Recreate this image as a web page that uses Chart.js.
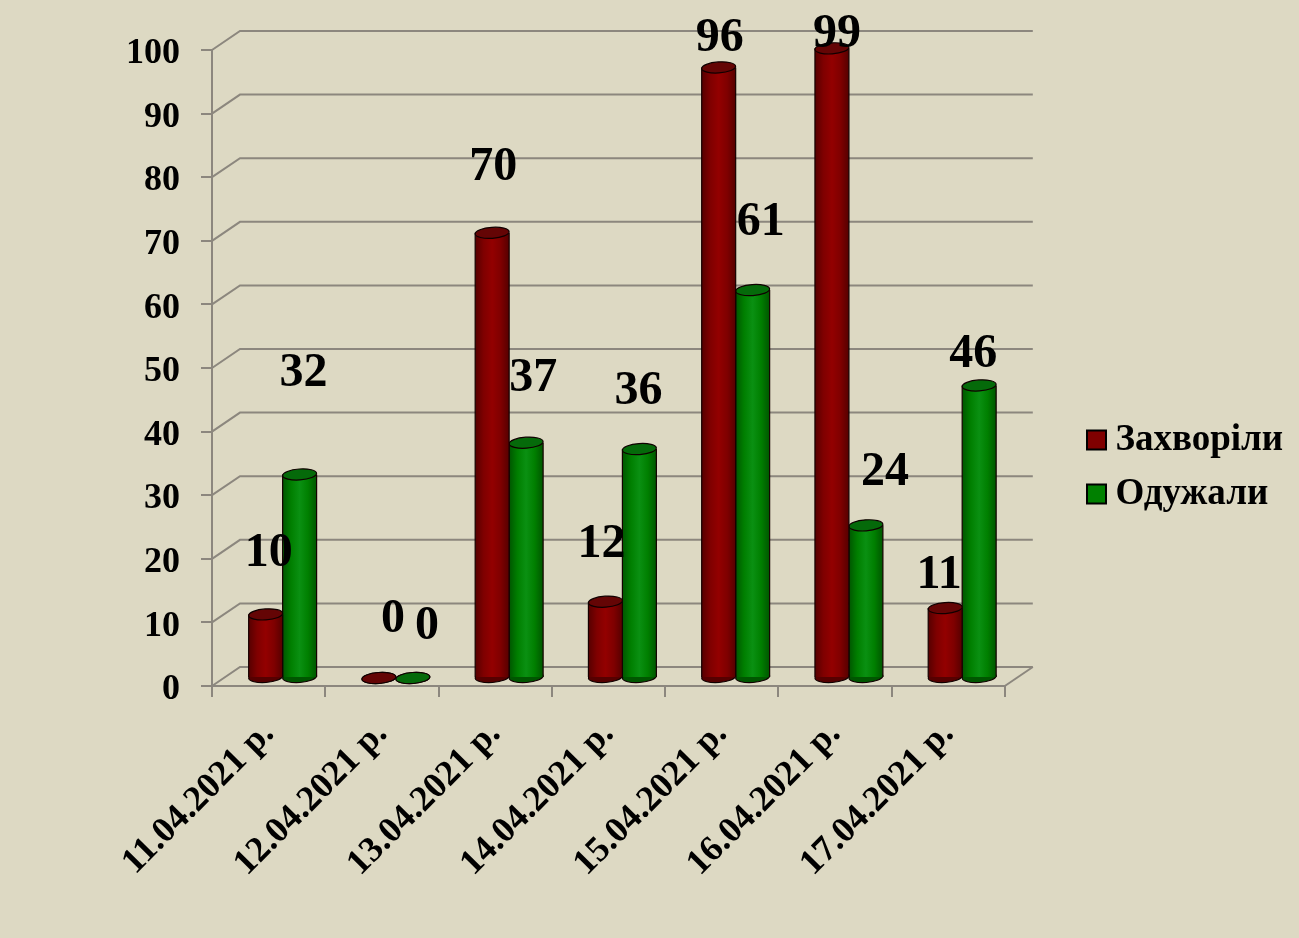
<!DOCTYPE html>
<html lang="uk">
<head>
<meta charset="utf-8">
<style>html,body{margin:0;padding:0;background:#DDD9C3}canvas{display:block}</style>
<script src="https://cdn.jsdelivr.net/npm/chart.js@4/dist/chart.umd.min.js"></script>
</head>
<body>
<canvas id="c" width="1299" height="938" style="width:1299px;height:938px"></canvas>
<script>
const categories = ['11.04.2021 р.','12.04.2021 р.','13.04.2021 р.','14.04.2021 р.','15.04.2021 р.','16.04.2021 р.','17.04.2021 р.'];
const sick = [10,0,70,12,96,99,11];
const recovered = [32,0,37,36,61,24,46];
const seriesNames = ['Захворіли','Одужали'];

// label placement relative to each bar top (the source chart has hand-moved labels)
const labelShift = [
  [[3,-61],[14,-58],[1,-65],[-4,-57],[1,-29],[5,-14],[-6,-32]],
  [[4,-101],[14,-51],[7,-64],[-1,-57],[8,-67],[19,-53],[-6,-31]]
];
const FONT = '"Liberation Serif","Times New Roman",serif';
const DEPTH_X = 28, DEPTH_Y = 19, BAR_DX = 14, BAR_DY = 8;
const palette = [
  {edge:'#560000', side:'#7f0000', mid:'#930000', top:'#640505', flat:'#800000'},
  {edge:'#005600', side:'#007f00', mid:'#0a9012', top:'#056a0a', flat:'#008000'}
];
const GRID = '#8c877e';

function ellipse(ctx, x, y, rx, ry, fill){
  ctx.beginPath();
  ctx.ellipse(x, y, rx, ry, -4*Math.PI/180, 0, Math.PI*2);
  ctx.fillStyle = fill; ctx.fill();
  ctx.lineWidth = 1.2; ctx.strokeStyle = '#100000'; ctx.stroke();
}
function barFill(c){
  const chart = c.chart, x = chart.scales.x, p = palette[c.datasetIndex];
  if(!chart.chartArea || !x || c.dataIndex === undefined) return p.flat;
  const w = x.width/categories.length*0.6/2;
  const cx = x.getPixelForValue(c.dataIndex) + (c.datasetIndex-0.5)*w;
  const g = chart.ctx.createLinearGradient(cx-w/2,0,cx+w/2,0);
  g.addColorStop(0,p.edge); g.addColorStop(0.25,p.side); g.addColorStop(0.5,p.mid); g.addColorStop(0.75,p.side); g.addColorStop(1,p.edge);
  return g;
}

const wall = {
  id:'wall',
  beforeDatasetsDraw(chart){
    const {ctx, scales:{x,y}} = chart, L = x.left, R = x.right;
    ctx.save();
    ctx.strokeStyle = GRID; ctx.lineWidth = 2;
    y.ticks.forEach((t,i)=>{
      const py = y.getPixelForTick(i);
      ctx.beginPath();
      ctx.moveTo(L,py); ctx.lineTo(L+DEPTH_X,py-DEPTH_Y); ctx.lineTo(R+DEPTH_X,py-DEPTH_Y);
      ctx.stroke();
    });
    const b = y.getPixelForValue(0);
    ctx.beginPath(); ctx.moveTo(R,b); ctx.lineTo(R+DEPTH_X,b-DEPTH_Y); ctx.stroke();
    ctx.restore();
  }
};
const cylinders = {
  id:'cylinders',
  beforeDatasetDraw(chart,args){
    const {ctx} = chart, p = palette[args.index];
    ctx.save();
    ctx.translate(BAR_DX,-BAR_DY);
    args.meta.data.forEach(el=>{
      ellipse(ctx, el.x, el.base, el.width/2, 5.5, p.edge);
    });
  },
  afterDatasetDraw(chart,args){
    const {ctx} = chart, p = palette[args.index];
    args.meta.data.forEach(el=>{
      const r = el.width/2;
      if(el.base-el.y > 0){
        ctx.strokeStyle='#150000'; ctx.lineWidth=1.2;
        ctx.beginPath();
        ctx.moveTo(el.x-r,el.y); ctx.lineTo(el.x-r,el.base);
        ctx.moveTo(el.x+r,el.y); ctx.lineTo(el.x+r,el.base);
        ctx.stroke();
      }
      ellipse(ctx, el.x, el.y, r, 5.5, p.top);
    });
    ctx.restore();
  }
};
const valueLabels = {
  id:'valueLabels',
  afterDatasetsDraw(chart){
    const {ctx} = chart;
    ctx.save();
    ctx.font = 'bold 48px '+FONT; ctx.fillStyle='#000';
    ctx.textAlign='center'; ctx.textBaseline='middle';
    chart.data.datasets.forEach((ds,di)=>{
      chart.getDatasetMeta(di).data.forEach((el,i)=>{
        const s = labelShift[di][i];
        ctx.fillText(String(ds.data[i]), el.x+BAR_DX+s[0], el.y-BAR_DY+s[1]);
      });
    });
    ctx.restore();
  }
};
const legendMove = {
  id:'legendMove',
  afterLayout(chart){
    const l = chart.legend, d = 1079 - l.left;
    l.left += d; l.right += d; l.top += 2; l.bottom += 2;
    chart.scales.y.getLabelItems().forEach(it=>{ it.options.translation[1] += 4; });
  }
};

new Chart(document.getElementById('c'),{
  type:'bar',
  data:{labels:categories,datasets:[
    {label:seriesNames[0],data:sick,backgroundColor:barFill,borderWidth:0,clip:false},
    {label:seriesNames[1],data:recovered,backgroundColor:barFill,borderWidth:0,clip:false}
  ]},
  plugins:[wall,cylinders,valueLabels,legendMove],
  options:{
    responsive:false,animation:false,
    layout:{padding:{left:0,right:80,top:50,bottom:58}},
    datasets:{bar:{categoryPercentage:0.6,barPercentage:1}},
    plugins:{
      tooltip:{enabled:false},
      legend:{position:'right',align:'center',labels:{
        usePointStyle:true,pointStyle:'rect',boxWidth:1,boxHeight:19,padding:17,color:'#000',
        font:{family:FONT,weight:'bold',size:37},
        generateLabels(){return seriesNames.map((n,i)=>({text:n,fillStyle:palette[i].flat,strokeStyle:'#000',lineWidth:2,pointStyle:'rect',datasetIndex:i}));}
      }}
    },
    scales:{
      x:{
        afterFit(s){s.height=194;},
        grid:{drawOnChartArea:false,color:GRID,lineWidth:2,tickLength:11,tickColor:GRID},
        border:{color:GRID,width:2},
        ticks:{color:'#000',font:{family:FONT,weight:'bold',size:36},minRotation:45,maxRotation:45,padding:16,autoSkip:false}
      },
      y:{
        min:0,max:100,
        afterFit(s){s.width=212;},
        grid:{drawOnChartArea:false,color:GRID,lineWidth:2,tickLength:11,tickColor:GRID},
        border:{color:GRID,width:2},
        ticks:{stepSize:10,color:'#000',font:{family:FONT,weight:'bold',size:36},padding:21}
      }
    }
  }
});
</script>
</body>
</html>
